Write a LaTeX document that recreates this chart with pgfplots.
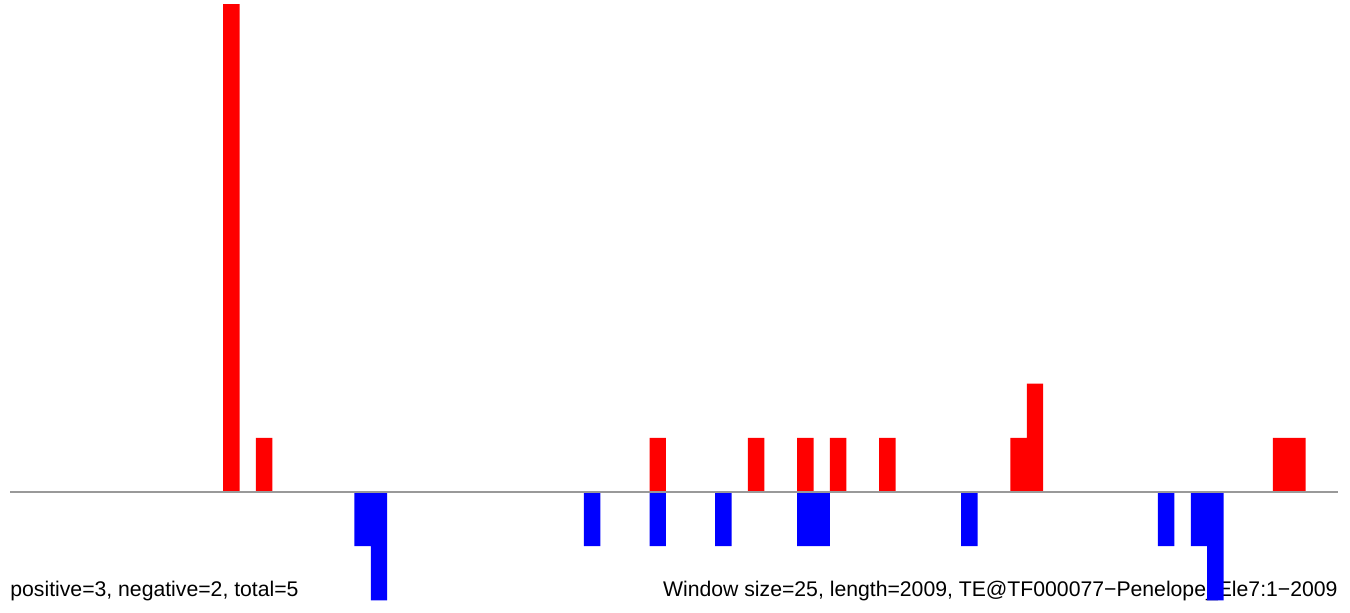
\documentclass[border=0pt]{standalone}
\usepackage{fontspec}
\setmainfont{Liberation Sans}
\usepackage{pgfplots}
\pgfplotsset{compat=1.18}
\definecolor{baseg}{rgb}{0.6,0.6,0.6}
\begin{document}
\begin{tikzpicture}
\path[use as bounding box] (0,0) rectangle (675pt,306.5pt);
\node[anchor=base west, inner sep=0pt, font=\fontsize{10.6pt}{12pt}\selectfont] at (5pt,8pt) {positive=3, negative=2, total=5};
\node[anchor=base east, inner sep=0pt, font=\fontsize{10.6pt}{12pt}\selectfont] at (669pt,8pt) {Window size=25, length=2009, TE@TF000077−Penelope\_Ele7:1−2009};
\begin{axis}[
  at={(0,0)}, anchor=south west,
  scale only axis, width=675pt, height=306.5pt,
  xmin=-0.61, xmax=81.71, ymin=-2.232, ymax=9.077,
  hide axis, clip=false,
  ybar, bar width=1, bar shift=0.5,
]
\addplot[draw=none, fill=red] coordinates {(13,9)(15,1)(39,1)(45,1)(48,1)(50,1)(53,1)(61,1)(62,2)(77,1)(78,1)};
\addplot[draw=none, fill=blue] coordinates {(21,-1)(22,-2)(35,-1)(39,-1)(43,-1)(48,-1)(49,-1)(58,-1)(70,-1)(72,-1)(73,-2)};
\addplot[sharp plot, baseg, line width=0.6pt, forget plot] coordinates {(0,0)(81,0)};
\end{axis}
\end{tikzpicture}
\end{document}
